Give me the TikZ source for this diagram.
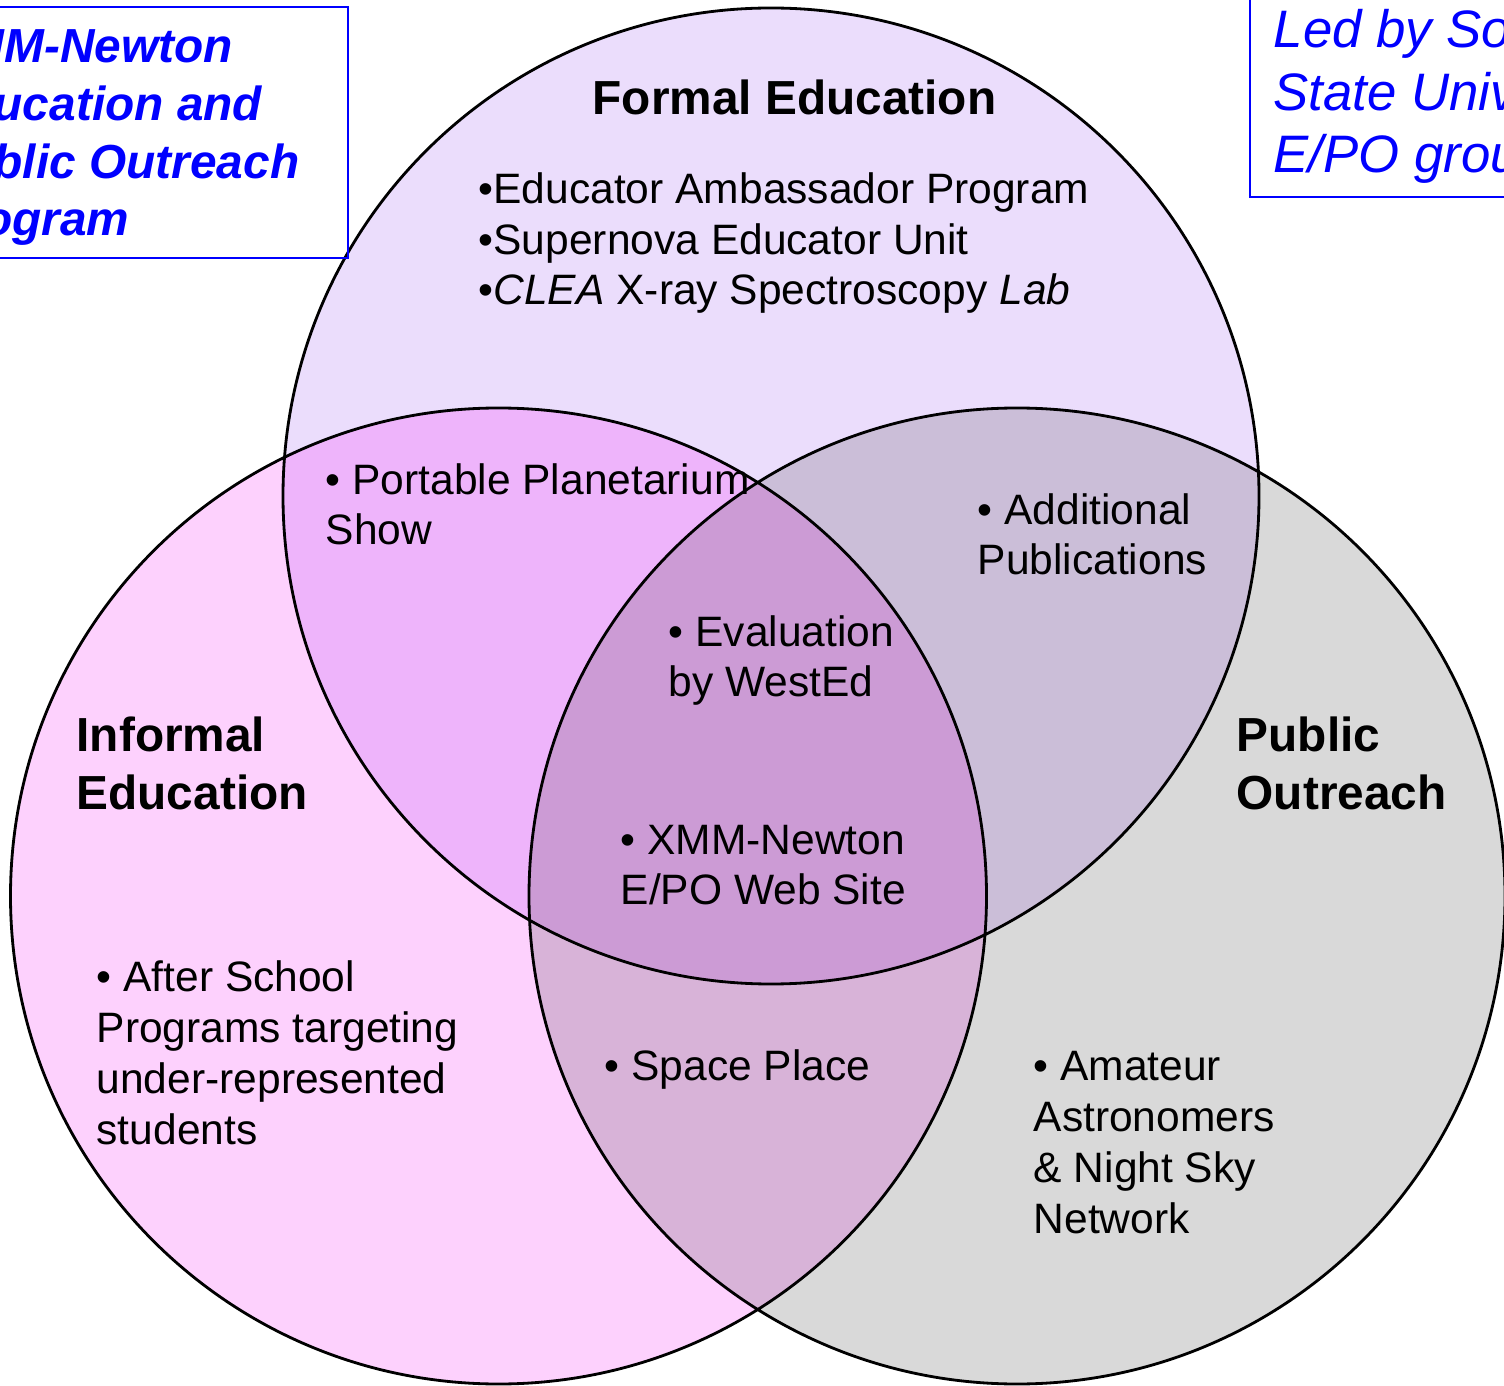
\documentclass[tikz,border=0pt]{standalone}
\usepackage{fontspec}
\setmainfont{Liberation Sans}
\usetikzlibrary{positioning}
\definecolor{FormalFill}{HTML}{EBDDFC}
\definecolor{InformalFill}{HTML}{FDD1FD}
\definecolor{PublicFill}{HTML}{D9D9D9}
\definecolor{FormInf}{HTML}{EEB4FB}
\definecolor{FormPub}{HTML}{CBBED8}
\definecolor{InfPub}{HTML}{D8B3D8}
\definecolor{AllThree}{HTML}{CC9BD5}
\definecolor{TagBlue}{HTML}{0000FF}
\tikzset{
  setline/.style={draw=black, line width=0.8pt},
  settitle/.style={font=\fontsize{13.6}{16.5}\selectfont\bfseries, align=left,
             anchor=base west, inner sep=0pt},
  item/.style={font=\fontsize{12.1}{14.5}\selectfont, align=left,
             anchor=base west, inner sep=0pt},
  tagbox/.style={draw=TagBlue, line width=0.8pt},
  tagtext/.style={text=TagBlue, align=left, anchor=base west, inner sep=0pt},
}

\begin{document}
\begin{tikzpicture}
\clip (0,0) rectangle (15.04,13.85);
\def\rad{4.88}
\coordinate (F) at (7.71,8.89);
\coordinate (I) at (4.985,4.89);
\coordinate (P) at (10.17,4.89);
% ---------- set fills
\fill[FormalFill] (F) circle (\rad);
\fill[InformalFill] (I) circle (\rad);
\fill[PublicFill] (P) circle (\rad);
\begin{scope}
  \clip (F) circle (\rad);
  \fill[FormInf] (I) circle (\rad);
  \fill[FormPub] (P) circle (\rad);
\end{scope}
\begin{scope}
  \clip (I) circle (\rad);
  \fill[InfPub] (P) circle (\rad);
  \clip (P) circle (\rad);
  \fill[AllThree] (F) circle (\rad);
\end{scope}
% ---------- set outlines
\draw[setline] (F) circle (\rad) (I) circle (\rad) (P) circle (\rad);
% ---------- set titles (base = last line)
\node[settitle] (formal) at (5.92,12.70) {Formal Education};
\node[settitle] (informal) at (0.76,5.76) {Informal\\Education};
\node[settitle] (public) at (12.36,5.76) {Public\\Outreach};
% ---------- items
\node[item] (formallist) at (4.78,10.80) {\textbullet Educator Ambassador Program\\
  \textbullet Supernova Educator Unit\\
  \textbullet\textit{CLEA} X-ray Spectroscopy \textit{Lab}};
\node[item] (planetarium) at (3.25,8.40) {\textbullet{} Portable Planetarium\\Show};
\node[item] (publications) at (9.77,8.10) {\textbullet{} Additional\\Publications};
\node[item] (evaluation) at (6.68,6.88) {\textbullet{} Evaluation\\by WestEd};
\node[item] (website) at (6.20,4.80) {\textbullet{} XMM-Newton\\E/PO Web Site};
\node[item] (afterschool) at (0.96,2.41) {\textbullet{} After School\\Programs targeting\\under-represented\\students};
\node[item] (spaceplace) at (6.04,3.05) {\textbullet{} Space Place};
\node[item] (amateur) at (10.33,1.52) {\textbullet{} Amateur\\Astronomers\\\& Night Sky\\Network};
% ---------- program tags
\draw[tagbox] (-1,13.78) rectangle (3.48,11.27);
\node[tagtext, font=\fontsize{13.6}{16.5}\selectfont\bfseries\itshape] (progtag) at (-0.68,11.49)
  {XMM-Newton\\Education and\\Public Outreach\\Program};
\draw[tagbox] (12.50,14.2) rectangle (15.3,11.88);
\node[tagtext, font=\fontsize{15}{17.9}\selectfont\itshape] (leadtag) at (12.73,12.12)
  {Led by Sonoma\\State University\\E/PO group};
\end{tikzpicture}
\end{document}
